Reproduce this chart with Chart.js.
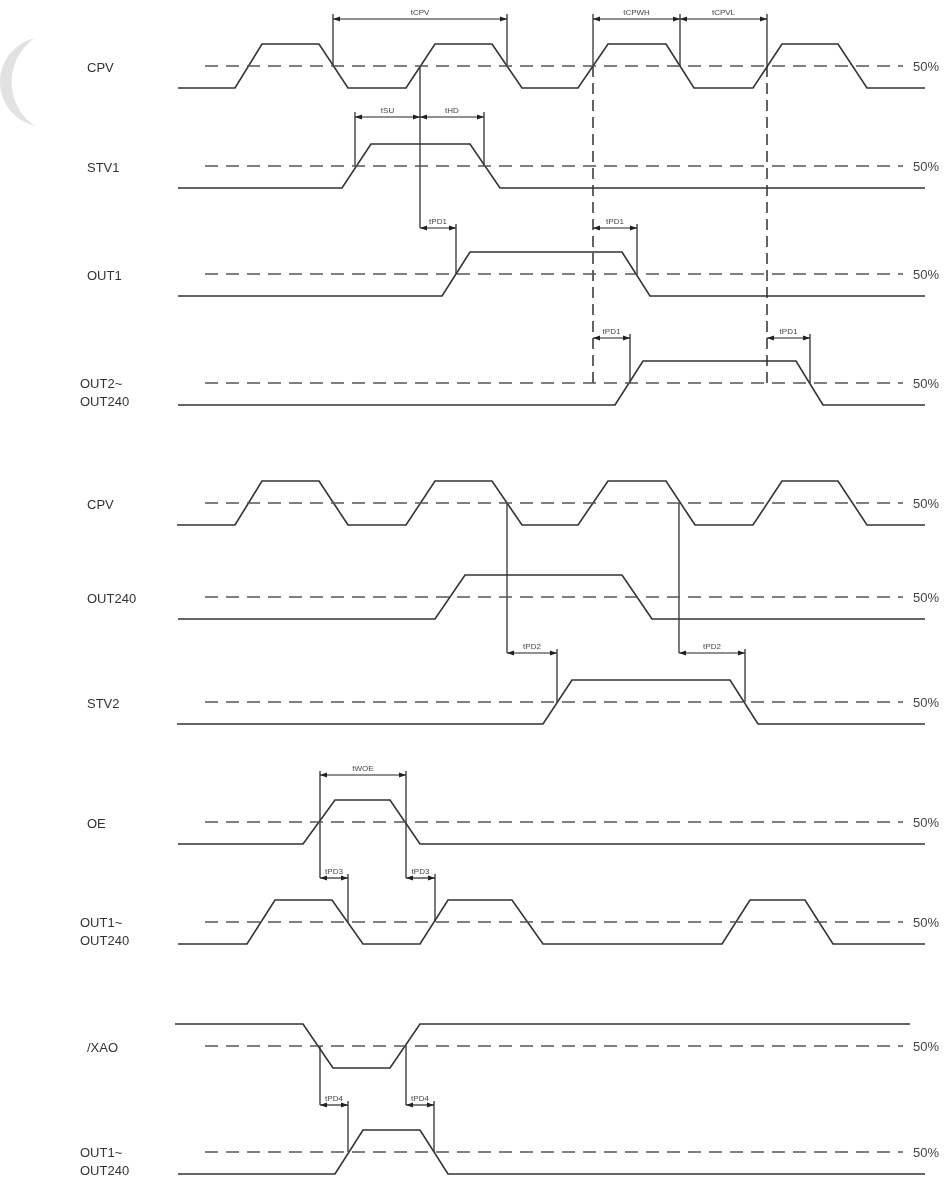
<!DOCTYPE html>
<html>
<head>
<meta charset="utf-8">
<script src="https://cdn.jsdelivr.net/npm/chart.js@4.4.1/dist/chart.umd.min.js"></script>
<style>
  html, body { margin: 0; padding: 0; background: #fff; }
  canvas { display: block; }
</style>
</head>
<body>
<canvas id="timing" width="948" height="1180"></canvas>
<script>
// signal names (left column), one entry per row
const rowNames = [['CPV'], ['STV1'], ['OUT1'], ['OUT2~', 'OUT240'],
  ['CPV'], ['OUT240'], ['STV2'],
  ['OE'], ['OUT1~', 'OUT240'],
  ['/XAO'], ['OUT1~', 'OUT240']];

// waveforms: start level, edges [edge start, edge end], start / end time
const cpvEdges1 = [[235, 262], [319, 348], [406, 435], [492, 522], [578, 608], [666, 694], [753, 782], [838, 867]];
const stv1Edges = [[342, 371], [470, 500]];
const out1Edges = [[442, 470], [622, 650]];
const out2Edges = [[615, 643], [796, 823]];
const cpvEdges2 = [[235, 262], [319, 348], [406, 435], [492, 522], [578, 608], [666, 695], [753, 782], [838, 867]];
const out240Edges = [[435, 465], [622, 652]];
const stv2Edges = [[543, 572], [730, 758]];
const oeEdges = [[303, 335], [390, 420]];
const outAEdges = [[247, 275], [332, 363], [420, 448], [512, 543], [722, 750], [805, 833]];
const xaoEdges = [[303, 333], [390, 420]];
const outBEdges = [[335, 363], [420, 448]];

const signals = [
  { row: 0, init: 0, t0: 178, t1: 925, edges: cpvEdges1 },
  { row: 1, init: 0, t0: 178, t1: 925, edges: stv1Edges },
  { row: 2, init: 0, t0: 178, t1: 925, edges: out1Edges },
  { row: 3, init: 0, t0: 178, t1: 925, edges: out2Edges },
  { row: 4, init: 0, t0: 177, t1: 925, edges: cpvEdges2 },
  { row: 5, init: 0, t0: 178, t1: 925, edges: out240Edges },
  { row: 6, init: 0, t0: 177, t1: 925, edges: stv2Edges },
  { row: 7, init: 0, t0: 178, t1: 925, edges: oeEdges },
  { row: 8, init: 0, t0: 178, t1: 925, edges: outAEdges },
  { row: 9, init: 1, t0: 175, t1: 910, edges: xaoEdges },
  { row: 10, init: 0, t0: 178, t1: 925, edges: outBEdges }
];

// timing dimensions: label, from, to, arrow level
const dims = [
  ['tCPV', 333, 507, 19], ['tCPWH', 593, 680, 19], ['tCPVL', 680, 767, 19],
  ['tSU', 355, 420, 117], ['tHD', 420, 484, 117],
  ['tPD1', 420, 456, 228], ['tPD1', 593, 637, 228],
  ['tPD1', 593, 630, 338], ['tPD1', 767, 810, 338],
  ['tPD2', 507, 557, 653], ['tPD2', 679, 745, 653],
  ['tWOE', 320, 406, 775],
  ['tPD3', 320, 348, 878], ['tPD3', 406, 435, 878],
  ['tPD4', 320, 348, 1105], ['tPD4', 406, 434, 1105]
];

// reference (extension) lines: time, from level, to level, dashed
const refLines = [
  [333, 14, 66], [507, 14, 66], [593, 14, 66], [680, 14, 66], [767, 14, 66],
  [593, 66, 383, true], [767, 66, 383, true],
  [355, 112, 166], [484, 112, 166], [420, 66, 228],
  [456, 224, 274], [637, 224, 274],
  [630, 334, 383], [810, 334, 383],
  [507, 503, 653], [557, 649, 702], [679, 503, 653], [745, 649, 702],
  [320, 771, 878], [406, 771, 878], [348, 874, 922], [435, 874, 922],
  [320, 1046, 1105], [406, 1046, 1105], [348, 1101, 1152], [434, 1101, 1152]
];

// layout
const rowMid = [66, 166, 274, 383, 503, 597, 702, 822, 922, 1046, 1152];
const swing = 22;
const dashFrom = 205, dashTo = 903;

function level(row, l) { return rowMid[row] - (l - 0.5) * 2 * swing; }

function wave(s) {
  let l = s.init;
  const pts = [{ x: s.t0, y: level(s.row, l) }];
  s.edges.forEach(e => {
    pts.push({ x: e[0], y: level(s.row, l) });
    l = 1 - l;
    pts.push({ x: e[1], y: level(s.row, l) });
  });
  pts.push({ x: s.t1, y: level(s.row, l) });
  return pts;
}

const datasets = [];
rowMid.forEach(m => {
  datasets.push({ data: [{ x: dashFrom, y: m }, { x: dashTo, y: m }],
    borderColor: '#555', borderWidth: 1.6, borderDash: [13, 8] });
});
signals.forEach(s => {
  datasets.push({ data: wave(s), borderColor: '#333', borderWidth: 1.6 });
});
refLines.forEach(r => {
  datasets.push({ data: [{ x: r[0], y: r[1] }, { x: r[0], y: r[2] }],
    borderColor: '#222', borderWidth: r[3] ? 1.4 : 1.2, borderDash: r[3] ? [11, 6] : [] });
});
dims.forEach(d => {
  datasets.push({ data: [{ x: d[1], y: d[3] }, { x: d[2], y: d[3] }],
    borderColor: '#222', borderWidth: 1.2 });
});

const deg = Math.PI / 180;

const decor = {
  id: 'decor',
  beforeDraw(chart) {
    const ctx = chart.ctx;
    ctx.save();
    ctx.fillStyle = '#fff';
    ctx.fillRect(0, 0, chart.width, chart.height);
    // faint watermark crescent on the left edge
    ctx.fillStyle = '#e2e2e2';
    ctx.beginPath();
    ctx.arc(45, 82, 45, -102.8 * deg, 102.8 * deg, true);
    ctx.arc(65, 82, 53.4, 124.3 * deg, 235.7 * deg, false);
    ctx.closePath();
    ctx.fill();
    ctx.restore();
  },
  afterDatasetsDraw(chart) {
    const ctx = chart.ctx;
    const xs = chart.scales.x, ys = chart.scales.y;
    ctx.save();
    ctx.fillStyle = '#333';
    ctx.font = '13px Arial, "Liberation Sans", sans-serif';
    ctx.textBaseline = 'middle';
    ctx.textAlign = 'left';
    rowNames.forEach((n, i) => {
      if (n.length === 1) {
        ctx.fillText(n[0], 87, ys.getPixelForValue(rowMid[i] + 2));
      } else {
        ctx.fillText(n[0], 80, ys.getPixelForValue(rowMid[i] + 1));
        ctx.fillText(n[1], 80, ys.getPixelForValue(rowMid[i] + 19));
      }
      ctx.fillStyle = '#444';
      ctx.fillText('50%', 913, ys.getPixelForValue(rowMid[i] + 1));
      ctx.fillStyle = '#333';
    });
    // arrow heads and dimension labels
    ctx.font = '8px Arial, "Liberation Sans", sans-serif';
    ctx.textAlign = 'center';
    ctx.textBaseline = 'alphabetic';
    dims.forEach(d => {
      const a = xs.getPixelForValue(d[1]), b = xs.getPixelForValue(d[2]);
      const y = ys.getPixelForValue(d[3]);
      ctx.fillStyle = '#222';
      ctx.beginPath();
      ctx.moveTo(a, y); ctx.lineTo(a + 7, y - 2.5); ctx.lineTo(a + 7, y + 2.5); ctx.closePath();
      ctx.moveTo(b, y); ctx.lineTo(b - 7, y - 2.5); ctx.lineTo(b - 7, y + 2.5); ctx.closePath();
      ctx.fill();
      ctx.fillStyle = '#444';
      ctx.fillText(d[0], (a + b) / 2, y - 4);
    });
    ctx.restore();
  }
};

new Chart(document.getElementById('timing'), {
  type: 'scatter',
  data: { datasets },
  options: {
    responsive: false,
    animation: false,
    showLine: true,
    layout: { padding: 0 },
    elements: { point: { radius: 0, hoverRadius: 0 }, line: { tension: 0 } },
    plugins: { legend: { display: false }, tooltip: { enabled: false } },
    events: [],
    scales: {
      x: { type: 'linear', min: 0, max: 948, display: false },
      y: { type: 'linear', min: 0, max: 1180, reverse: true, display: false }
    }
  },
  plugins: [decor]
});
</script>
</body>
</html>
